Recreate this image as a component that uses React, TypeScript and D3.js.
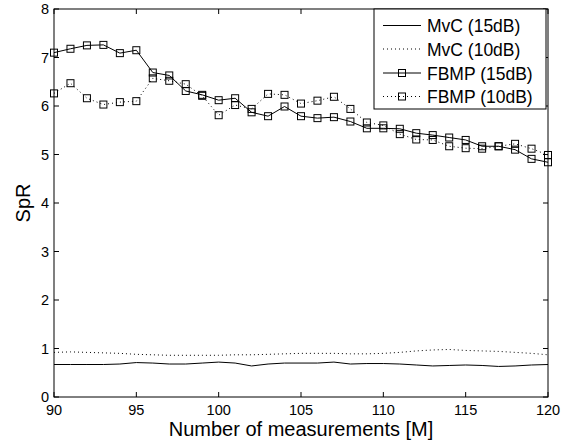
import React from "react";
import * as d3 from "d3";

const xValues = d3.range(90, 121);
const xTicks = [90, 95, 100, 105, 110, 115, 120];
const yTicks = [0, 1, 2, 3, 4, 5, 6, 7, 8];

const mvc15 = [0.67, 0.67, 0.67, 0.67, 0.68, 0.71, 0.70, 0.68, 0.68, 0.70, 0.72, 0.70, 0.64, 0.68, 0.70, 0.70, 0.70, 0.72, 0.68, 0.69, 0.69, 0.68, 0.66, 0.64, 0.65, 0.66, 0.65, 0.63, 0.64, 0.66, 0.67];
const mvc10 = [0.92, 0.93, 0.92, 0.91, 0.90, 0.88, 0.87, 0.86, 0.86, 0.86, 0.86, 0.87, 0.87, 0.88, 0.89, 0.90, 0.90, 0.90, 0.89, 0.89, 0.90, 0.92, 0.95, 0.97, 0.98, 0.96, 0.95, 0.94, 0.92, 0.90, 0.87];
const fbmp15 = [7.10, 7.18, 7.25, 7.26, 7.09, 7.15, 6.69, 6.63, 6.31, 6.23, 6.12, 6.16, 5.87, 5.79, 5.99, 5.79, 5.75, 5.77, 5.68, 5.54, 5.54, 5.53, 5.44, 5.40, 5.35, 5.30, 5.17, 5.17, 5.10, 4.91, 4.84];
const fbmp10 = [6.26, 6.47, 6.16, 6.03, 6.08, 6.10, 6.57, 6.52, 6.45, 6.21, 5.81, 6.02, 5.94, 6.25, 6.23, 6.05, 6.11, 6.19, 5.94, 5.66, 5.60, 5.42, 5.31, 5.30, 5.17, 5.13, 5.12, 5.17, 5.22, 5.12, 4.99];

const legendLabels = ["MvC (15dB)", "MvC (10dB)", "FBMP (15dB)", "FBMP (10dB)"];
const xLabel = "Number of measurements [M]";
const yLabel = "SpR";

const W = 574;
const H = 448;
const L = 54, R = 548, T = 9, B = 397;
const FONT = "'Liberation Sans', Arial, Helvetica, sans-serif";
const DOT = "1 3";
const MS = 7;

export default function App() {
  const x = d3.scaleLinear().domain([90, 120]).range([L, R]);
  const y = d3.scaleLinear().domain([0, 8]).range([B, T]);
  const mk = (vals: number[]) =>
    d3.line<number>().x((_, i) => x(xValues[i])).y((v) => y(v))(vals) || "";

  const series = [
    { vals: mvc15, dash: undefined as string | undefined, marker: false },
    { vals: mvc10, dash: DOT, marker: false },
    { vals: fbmp15, dash: undefined as string | undefined, marker: true },
    { vals: fbmp10, dash: DOT, marker: true },
  ];

  const tl = 5;
  const legX0 = 374, legX1 = 546, legY0 = 9, legY1 = 109;
  const rowY = [25.5, 49, 73, 96.5];

  return (
    <div style={{ position: "absolute", left: 0, top: 0 }}>
      <svg width={W} height={H} style={{ display: "block", background: "#fff" }} fontFamily={FONT}>
        <rect x={0} y={0} width={W} height={H} fill="#fff" />
        {/* series */}
        {series.map((s, si) => (
          <g key={si}>
            <path d={mk(s.vals)} fill="none" stroke="#000" strokeWidth={1} strokeDasharray={s.dash} />
            {s.marker &&
              s.vals.map((v, i) => (
                <rect
                  key={i}
                  x={x(xValues[i]) - MS / 2}
                  y={y(v) - MS / 2}
                  width={MS}
                  height={MS}
                  fill="none"
                  stroke="#000"
                  strokeWidth={1}
                />
              ))}
          </g>
        ))}
        {/* axes box */}
        <rect x={L} y={T} width={R - L} height={B - T} fill="none" stroke="#000" strokeWidth={1} />
        {xTicks.map((t) => (
          <g key={"x" + t}>
            <line x1={x(t)} x2={x(t)} y1={B} y2={B - tl} stroke="#000" />
            <line x1={x(t)} x2={x(t)} y1={T} y2={T + tl} stroke="#000" />
            <text x={x(t)} y={415} fontSize={14.5} textAnchor="middle" fill="#000">
              {t}
            </text>
          </g>
        ))}
        {yTicks.map((t) => (
          <g key={"y" + t}>
            <line x1={L} x2={L + tl} y1={y(t)} y2={y(t)} stroke="#000" />
            <line x1={R} x2={R - tl} y1={y(t)} y2={y(t)} stroke="#000" />
            <text x={49} y={y(t) + 5} fontSize={14.5} textAnchor="end" fill="#000">
              {t}
            </text>
          </g>
        ))}
        <text x={(L + R) / 2} y={436} fontSize={20} textAnchor="middle" fill="#000">
          {xLabel}
        </text>
        <text
          transform={`translate(30, ${(T + B) / 2}) rotate(-90)`}
          fontSize={20}
          textAnchor="middle"
          fill="#000"
        >
          {yLabel}
        </text>
        {/* legend */}
        <rect x={legX0} y={legY0} width={legX1 - legX0} height={legY1 - legY0} fill="#fff" stroke="#000" strokeWidth={1} />
        {series.map((s, i) => (
          <g key={"leg" + i}>
            <line x1={383} x2={421} y1={rowY[i]} y2={rowY[i]} stroke="#000" strokeWidth={1} strokeDasharray={s.dash} />
            {s.marker && (
              <rect x={402 - MS / 2} y={rowY[i] - MS / 2} width={MS} height={MS} fill="none" stroke="#000" />
            )}
            <text x={427} y={rowY[i] + 6.5} fontSize={17.5} fill="#000">
              {legendLabels[i]}
            </text>
          </g>
        ))}
      </svg>
    </div>
  );
}
